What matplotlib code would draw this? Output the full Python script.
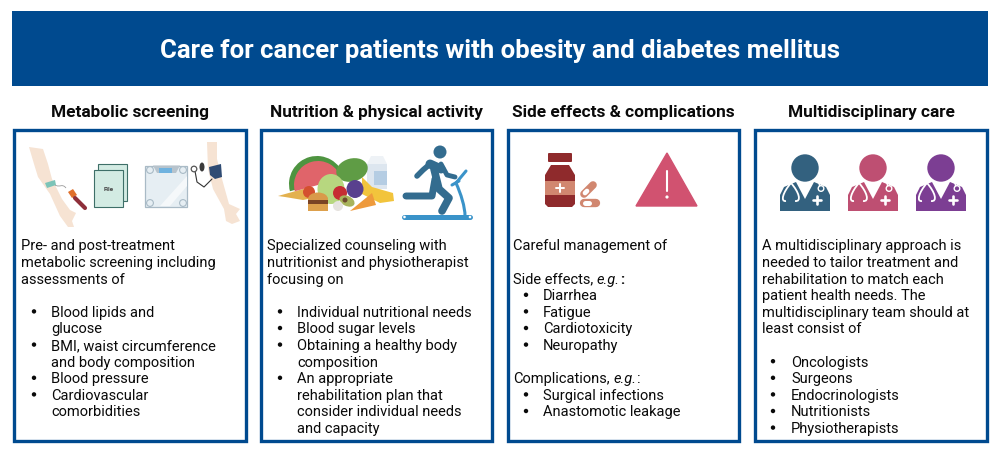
import matplotlib
matplotlib.use('Agg')
import matplotlib.pyplot as plt
from matplotlib.patches import Rectangle, Circle, Polygon, FancyBboxPatch, Wedge, Ellipse, PathPatch
from matplotlib.path import Path

plt.rcParams['font.family'] = ['Roboto', 'DejaVu Sans']

navy = '#004A8F'
main_title = 'Care for cancer patients with obesity and diabetes mellitus'
panel_titles = ['Metabolic screening', 'Nutrition & physical activity',
                'Side effects & complications', 'Multidisciplinary care']

# (row, text, kind) rows are 16.6 px apart, counted from the first text line
panel1 = [(0, 'Pre- and post-treatment', 't'), (1, 'metabolic screening including', 't'),
          (2, 'assessments of', 't'),
          (4, 'Blood lipids and', 'b'), (5, 'glucose', 'c'),
          (6, 'BMI, waist circumference', 'b'), (7, 'and body composition', 'c'),
          (8, 'Blood pressure', 'b'), (9, 'Cardiovascular', 'b'), (10, 'comorbidities', 'c')]
panel2 = [(0, 'Specialized counseling with', 't'), (1, 'nutritionist and physiotherapist', 't'),
          (2, 'focusing on', 't'),
          (4, 'Individual nutritional needs', 'b'), (5, 'Blood sugar levels', 'b'),
          (6, 'Obtaining a healthy body', 'b'), (7, 'composition', 'c'),
          (8, 'An appropriate', 'b'), (9, 'rehabilitation plan that', 'c'),
          (10, 'consider individual needs', 'c'), (11, 'and capacity', 'c')]
panel3 = [(0, 'Careful management of', 't'),
          (2, 'Side effects,', 'eg'),
          (3, 'Diarrhea', 'b'), (4, 'Fatigue', 'b'), (5, 'Cardiotoxicity', 'b'), (6, 'Neuropathy', 'b'),
          (8, 'Complications,', 'eg'),
          (9, 'Surgical infections', 'b'), (10, 'Anastomotic leakage', 'b')]
panel4 = [(0, 'A multidisciplinary approach is', 't'), (1, 'needed to tailor treatment and', 't'),
          (2, 'rehabilitation to match each', 't'), (3, 'patient health needs. The', 't'),
          (4, 'multidisciplinary team should at', 't'), (5, 'least consist of', 't'),
          (7, 'Oncologists', 'b'), (8, 'Surgeons', 'b'), (9, 'Endocrinologists', 'b'),
          (10, 'Nutritionists', 'b'), (11, 'Physiotherapists', 'b')]
panels = [panel1, panel2, panel3, panel4]

box_left = [14, 261, 508, 755]
box_right = [246, 492, 739, 987]
text_x = [21, 267, 513, 762]
bullet_x = [34, 280, 526, 773]
item_x = [51, 297, 543, 791]

fig = plt.figure(figsize=(10.03, 4.52), dpi=100)
ax = fig.add_axes([0, 0, 1, 1])
ax.set_xlim(0, 1003)
ax.set_ylim(452, 0)
ax.axis('off')

ax.add_patch(Rectangle((12, 12), 976, 75, fc=navy, ec='none'))
ax.text(500.5, 51, main_title, color='white', fontsize=18.5, fontweight='bold', ha='center', va='center')

fs = 10.55
ink = '#0A0A0A'
for i in range(4):
    ax.add_patch(Rectangle((box_left[i], 130.5), box_right[i] - box_left[i], 312, fc='white', ec=navy, lw=2.4))
    ax.text((box_left[i] + box_right[i]) / 2, 112.5, panel_titles[i], fontsize=12.4, fontweight='bold',
            ha='center', va='center', color=ink)
    for row, txt, kind in panels[i]:
        y = 250.5 + row * 16.6
        if kind == 'b':
            ax.add_patch(Circle((bullet_x[i], y - 4.5), 2.2, fc=ink, ec='none'))
        x = item_x[i] if kind in ('b', 'c') else text_x[i]
        t = ax.text(x, y, txt, fontsize=fs, color=ink, va='baseline')
        if kind == 'eg':
            fig.canvas.draw()
            r = fig.canvas.get_renderer()
            x2 = x + t.get_window_extent(r).width + 3.5
            t2 = ax.text(x2, y, 'e.g.', fontsize=fs, style='italic', color=ink)
            x3 = x2 + t2.get_window_extent(r).width + 0.5
            ax.text(x3, y, ':', fontsize=fs, color=ink, fontweight='bold' if 'Side' in txt else 'normal')


def poly(pts, fc, z=3, ec='none', lw=0):
    ax.add_patch(Polygon(pts, closed=True, fc=fc, ec=ec, lw=lw, zorder=z))


def line(xs, ys, c, lw, z=4):
    ax.plot(xs, ys, color=c, lw=lw, solid_capstyle='round', zorder=z)


def curve(pts, c, lw, z=4):
    codes = [Path.MOVETO] + [Path.CURVE4] * (len(pts) - 1)
    ax.add_patch(PathPatch(Path(pts, codes), fc='none', ec=c, lw=lw, zorder=z))


skin = '#F6E3D3'
# arm with blood tube
poly([(29, 148), (43, 150), (48, 165), (52, 180), (62, 200), (70, 211), (76, 214), (72, 222), (74, 228),
      (68, 228), (60, 217), (50, 195), (38, 178), (34, 165)], skin)
poly([(45, 184), (55, 181), (56, 186), (47, 189)], '#7CC4B8', z=4)
curve([(55, 186), (60, 189), (62, 184), (66, 189)], '#999999', 0.6)
poly([(68, 193), (73, 190), (77, 196), (72, 199)], '#E0702C', z=4)
line([75, 85], [199, 209], '#8E2F3A', 3.0)
# file sheets
poly([(98, 165), (127, 165), (127, 202), (98, 202)], '#D3EBE3', ec='#3E6F68', lw=0.8)
poly([(94, 171), (123, 171), (123, 208), (94, 208)], '#D3EBE3', z=4, ec='#3E6F68', lw=0.8)
ax.text(109, 190, 'File', fontsize=4.6, color='#444444', ha='center', va='center', zorder=5, fontweight='bold')
# scale
ax.add_patch(Rectangle((145.5, 166.5), 42, 41, fc='#E6EEF3', ec='#A9BAC6', lw=0.9, zorder=3))
poly([(153, 166.5), (180, 166.5), (176, 174), (157, 174)], '#B7C3CC', z=4)
ax.add_patch(Rectangle((159, 168.5), 13, 5.5, fc='#6FB2DF', ec='none', zorder=5))
poly([(160, 207), (187, 177), (187, 187), (170, 207)], '#F5F8FA', z=4)
for cx, cy in [(150, 171), (183, 171), (150, 204), (183, 204)]:
    ax.add_patch(Circle((cx, cy), 3.4, fc='#E6EEF3', ec='#A9BAC6', lw=0.8, zorder=5))
# arm with cuff
poly([(207, 143), (217, 143), (217, 160), (222, 180), (229, 205), (240, 210), (236, 215), (240, 222),
      (232, 225), (226, 222), (224, 210), (213, 190), (208, 170)], skin)
poly([(209, 168), (221, 165), (222, 178), (215, 180), (210, 176)], '#2F4B73', z=4)
line([195, 197, 204, 212], [172, 183, 188, 180], '#333333', 0.8)
ax.add_patch(Circle((194, 170), 2.8, fc='white', ec='#555555', lw=0.9, zorder=5))
ax.add_patch(Ellipse((202, 168), 5, 9, fc='#3A3A3A', ec='none', zorder=5))

# food pile
poly([(278, 197), (303, 190), (318, 198), (303, 201), (285, 198)], '#E3B14F', z=2)
ax.add_patch(Wedge((317, 185), 28, 165, 345, fc='#4E9440', ec='none', zorder=3))
ax.add_patch(Wedge((318, 186), 24, 165, 345, fc='#E0646A', ec='none', zorder=3))
ax.add_patch(Rectangle((367, 165), 20, 25, fc='#DDE6EF', ec='none', zorder=3))
poly([(367, 165), (371, 157), (383, 157), (387, 165)], '#EEF2F6', z=3)
ax.add_patch(Rectangle((374, 172), 13, 14, fc='#B5CDE3', ec='none', zorder=3))
ax.add_patch(Ellipse((352, 171), 32, 23, angle=-15, fc='#5F9C45', ec='none', zorder=4))
ax.add_patch(Ellipse((331, 190), 27, 30, fc='#B7D77F', ec='none', zorder=5))
poly([(362, 178), (372, 188), (393, 194), (394, 202), (380, 204), (362, 195)], '#F2C43C', z=4)
ax.add_patch(Ellipse((355, 190), 17, 18, fc='#59408E', ec='none', zorder=6))
ax.add_patch(Circle((340, 194), 7, fc='#C62D33', ec='none', zorder=6))
ax.add_patch(Circle((309, 193), 6, fc='#D4502F', ec='none', zorder=6))
ax.add_patch(Ellipse((347, 202), 16, 10, angle=25, fc='#A8B35B', ec='none', zorder=7))
ax.add_patch(Circle((345, 201), 2.5, fc='#6E4A2E', ec='none', zorder=8))
ax.add_patch(Ellipse((318, 200), 20, 13, fc='#D99A4A', ec='none', zorder=7))
ax.add_patch(Rectangle((308, 201), 20, 4, fc='#7A4324', ec='none', zorder=7))
ax.add_patch(Rectangle((308, 205), 20, 7, fc='#DDA04C', ec='none', zorder=7))
ax.add_patch(Circle((338, 207), 5, fc='#E6E3DF', ec='none', zorder=7))
poly([(350, 212), (372, 194), (376, 206)], '#EE9A3C', z=7)

# runner and treadmill
runner = '#336C8F'
ax.add_patch(Circle((440, 153), 6.5, fc=runner, ec='none', zorder=4))
line([430, 441], [165, 170], runner, 6.5)
line([417, 423, 430], [177, 171, 165], runner, 4)
line([441, 447, 455], [165, 176, 178], runner, 3.5)
line([434, 439, 449, 442], [170, 190, 199, 212], runner, 5.5)
line([435, 432, 412, 406], [180, 197, 197, 197], runner, 5)
treadmill = '#3A93C9'
line([404, 470], [218, 218], treadmill, 3.6)
for cx in [404.5, 470]:
    ax.add_patch(Circle((cx, 218), 1.3, fc='white', ec='none', zorder=6))
curve([(456, 184), (461, 195), (465, 208), (465, 217)], treadmill, 2.2)
line([456, 466], [184, 172], treadmill, 2.2)
line([452, 459], [186, 182], treadmill, 2.2)

# medicine bottle
dark_red = '#8F2A2C'
salmon = '#D18770'
ax.add_patch(FancyBboxPatch((548, 154), 24, 9, boxstyle='round,pad=0,rounding_size=1', fc=dark_red, ec='none', zorder=3))
poly([(551, 166), (569, 166), (575, 176), (575, 205), (572, 208), (548, 208), (545, 205), (545, 176)], dark_red)
ax.add_patch(Rectangle((545, 182), 30, 14, fc=salmon, ec='none', zorder=4))
line([556, 564], [189, 189], 'white', 1.4, z=5)
line([560, 560], [185, 193], 'white', 1.4, z=5)
line([584, 593], [195, 186], salmon, 5.5)
line([584, 596], [204, 204], salmon, 6)
line([585, 589], [204, 204], 'white', 3.6, z=5)
line([585, 587], [194, 192], 'white', 3.4, z=5)

# warning triangle
warn = '#D15270'
poly([(667, 154), (697, 207), (636, 207)], warn, ec=warn, lw=1)
line([667, 667], [172, 192], 'white', 1.5, z=5)
ax.add_patch(Circle((667, 198), 1.6, fc='white', ec='none', zorder=5))

# doctors
for cx, col in [(805, '#33617F'), (873, '#BE4F72'), (941, '#7C3E93')]:
    ax.add_patch(Circle((cx, 169), 13.7, fc=col, ec='none', zorder=3))
    poly([(cx - 25, 212), (cx - 25, 196), (cx - 21, 188), (cx - 9, 183), (cx, 200), (cx + 9, 183),
          (cx + 21, 188), (cx + 25, 196), (cx + 25, 212)], col)
    curve([(cx - 14, 184), (cx - 22, 193), (cx - 25, 203), (cx - 19, 202)], 'white', 1.3, z=5)
    curve([(cx - 14, 184), (cx - 6, 193), (cx - 3, 203), (cx - 10, 202)], 'white', 1.3, z=5)
    line([cx + 14, cx + 15], [184, 189], 'white', 1.0, z=5)
    ax.add_patch(Circle((cx + 16, 189.5), 2.8, fc=col, ec='white', lw=1.0, zorder=6))
    line([cx + 8, cx + 16], [201, 201], 'white', 1.9, z=6)
    line([cx + 12, cx + 12], [197, 205], 'white', 1.9, z=6)

fig.savefig('out.png', dpi=100)
